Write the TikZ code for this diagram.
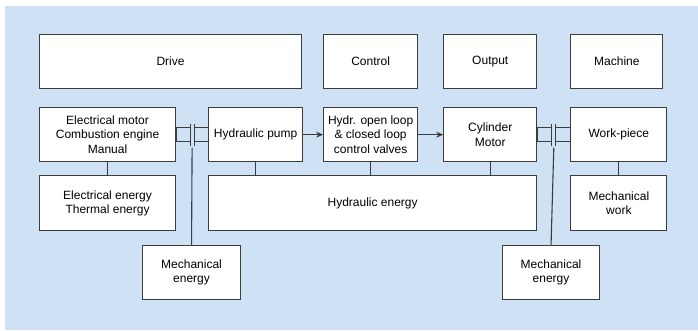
\documentclass[tikz,border=0pt]{standalone}
\usepackage{fontspec}
\setmainfont{Liberation Sans}
\usetikzlibrary{arrows.meta, positioning, calc}
\definecolor{panelblue}{RGB}{206, 225, 245}
\definecolor{linegray}{RGB}{60, 60, 60}
\tikzset{
  blk/.style={draw=linegray, fill=white, line width=1.1pt, align=center, inner sep=2pt,
    minimum height=54pt, anchor=north west, font=\fontsize{12}{14.2}\selectfont},
  toprow/.style={blk},
  link/.style={draw=linegray, line width=1.1pt},
  flow/.style={link, -{Stealth[length=7pt, width=6pt]}},
  cpl/.style={draw=linegray, line width=1.1pt},
}
\begin{document}
\begin{tikzpicture}[x=1pt, y=1pt]
  \useasboundingbox (0,0) rectangle (698,-330);
  \fill[panelblue] (5,-6) rectangle (698,-330);
  % top row
  \node[toprow, minimum width=262pt] (drive) at (39,-34) {Drive};
  \node[toprow, minimum width=94pt] (control) [right=21pt of drive.north east, anchor=north west] {Control};
  \node[toprow, minimum width=93pt] (output) [right=25pt of control.north east, anchor=north west] {Output};
  \node[toprow, minimum width=92pt] (machine) [right=33pt of output.north east, anchor=north west] {Machine};
  % components
  \node[blk, minimum width=136pt] (motor) [below=18pt of drive.south west, anchor=north west] {Electrical motor\\Combustion engine\\Manual};
  \node[blk, minimum width=94pt] (pump) [right=32pt of motor.north east, anchor=north west] {Hydraulic pump};
  \node[blk, minimum width=94pt] (valves) [below=18pt of control.south west, anchor=north west] {Hydr. open loop\\\& closed loop\\control valves};
  \node[blk, minimum width=93pt] (cyl) [below=18pt of output.south west, anchor=north west] {Cylinder\\Motor};
  \node[blk, minimum width=96pt] (work) [below=18pt of machine.south west, anchor=north west] {Work-piece};
  % energies
  \node[blk, minimum width=136pt, minimum height=55pt] (eenergy) [below=13pt of motor.south west, anchor=north west] {Electrical energy\\Thermal energy};
  \node[blk, minimum width=328pt, minimum height=55pt] (henergy) [below=13pt of pump.south west, anchor=north west] {Hydraulic energy};
  \node[blk, minimum width=96pt, minimum height=55pt] (mwork) [below=13pt of work.south west, anchor=north west] {Mechanical\\work};
  \node[blk, minimum width=98pt] (mechl) at (142,-245) {Mechanical\\energy};
  \node[blk, minimum width=97pt] (mechr) at (502,-245) {Mechanical\\energy};
  % couplings
  \coordinate (cl) at ($(motor.east)!0.5!(pump.west)$);
  \coordinate (cr) at ($(cyl.east)!0.5!(work.west)$);
  \foreach \c/\a/\b in {cl/motor/pump, cr/cyl/work} {
    \draw[cpl] ($(\a.east)+(0,7)$) rectangle ($(\c)+(-2,-7)$);
    \draw[cpl] ($(\c)+(2,7)$) rectangle ($(\b.west)+(0,-7)$);
    \draw[cpl] ($(\c)+(-2,11)$) -- ($(\c)+(-2,-11)$);
    \draw[cpl] ($(\c)+(2,11)$) -- ($(\c)+(2,-11)$);
  }
  \coordinate (clbot) at ($(cl)+(0,-13)$);
  \coordinate (crbot) at ($(cr)+(0,-13)$);
  \draw[link] (clbot) -- (mechl.north);
  \draw[link] (crbot) -- (mechr.north);
  % connections
  \draw[flow] (pump) -- (valves);
  \draw[flow] (valves) -- (cyl);
  \draw[link] (motor.south) -- (eenergy.north);
  \draw[link] (pump.south) -- (pump.south |- henergy.north);
  \draw[link] (valves.south) -- (valves.south |- henergy.north);
  \draw[link] (cyl.south) -- (cyl.south |- henergy.north);
  \draw[link] (work.south) -- (mwork.north);
\end{tikzpicture}
\end{document}
